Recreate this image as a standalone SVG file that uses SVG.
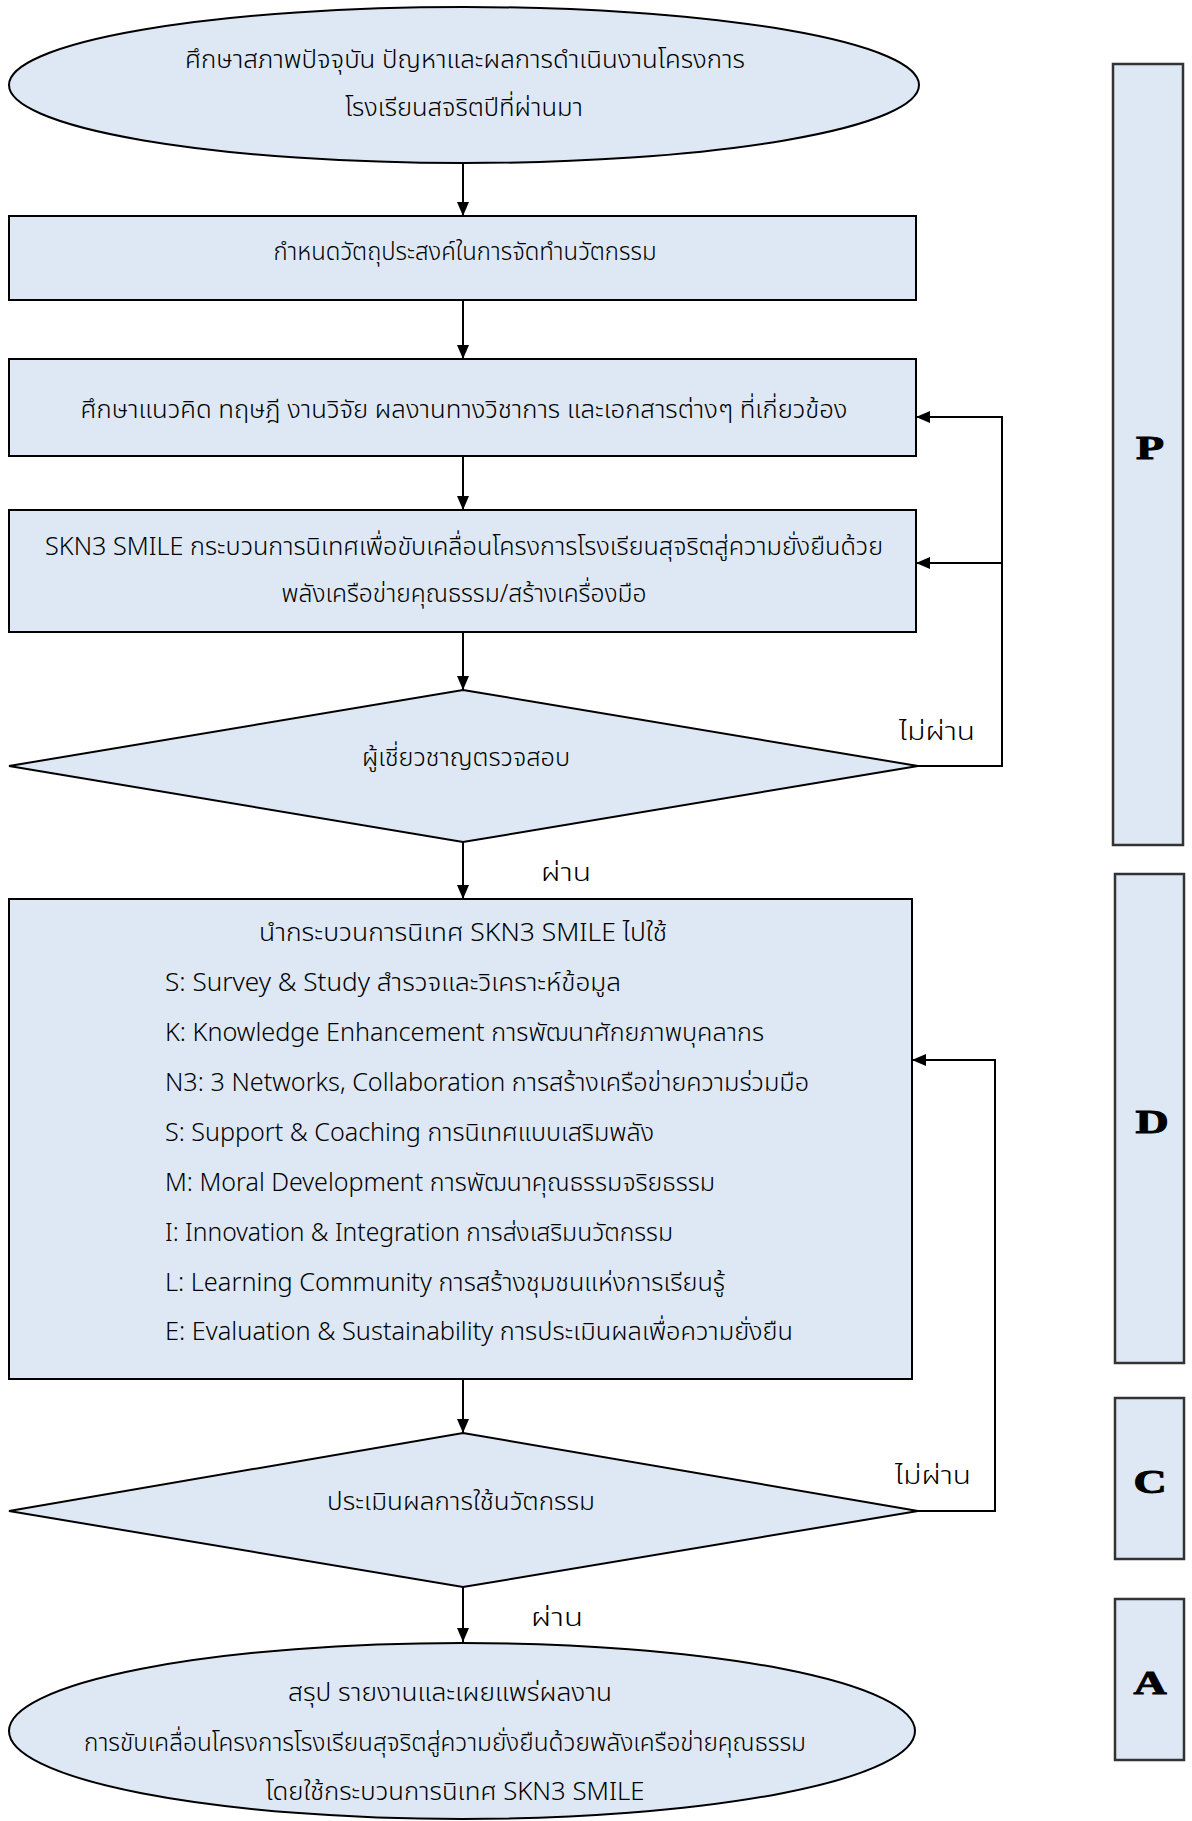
<svg xmlns="http://www.w3.org/2000/svg" width="1192" height="1821" viewBox="0 0 1192 1821">
<defs>
<marker id="ah2" viewBox="0 0 14 12" refX="14" refY="6" markerWidth="14" markerHeight="12" markerUnits="userSpaceOnUse" orient="auto">
<path d="M0,0 L14,6 L0,12 Z" fill="#000"/>
</marker>
</defs>
<style>
.n{fill:#dde8f4;stroke:#000;stroke-width:2}
.s{fill:#dde8f4;stroke:#333;stroke-width:2.5}
.t{font-family:"Noto Sans Thai","Noto Sans","DejaVu Sans",sans-serif;font-size:25px;font-weight:300;fill:#000}
.c{text-anchor:middle}
.b{font-family:"Liberation Serif","DejaVu Serif",serif;font-weight:bold;font-size:34px;fill:#000;stroke:#000;stroke-width:1;text-anchor:middle}
.l{fill:none;stroke:#000;stroke-width:2}
.a{marker-end:url(#ah2)}
</style>
<rect width="1192" height="1821" fill="#fff"/>
<g id="connectors">
<line class="l a" x1="463" y1="163" x2="463" y2="216"/>
<line class="l a" x1="463" y1="300" x2="463" y2="359"/>
<line class="l a" x1="463" y1="456" x2="463" y2="510"/>
<line class="l a" x1="463" y1="632" x2="463" y2="690"/>
<line class="l a" x1="463" y1="842" x2="463" y2="899"/>
<line class="l a" x1="463" y1="1379" x2="463" y2="1433"/>
<line class="l a" x1="463" y1="1587" x2="463" y2="1642"/>
<polyline class="l a" points="918,766 1002,766 1002,417 916,417"/>
<line class="l a" x1="1002" y1="563" x2="916" y2="563"/>
<polyline class="l a" points="918,1511 995,1511 995,1060 912,1060"/>
<text class="t c" x="937" y="740" textLength="76" lengthAdjust="spacingAndGlyphs">ไม่ผ่าน</text>
<text class="t c" x="566" y="881" textLength="50" lengthAdjust="spacingAndGlyphs">ผ่าน</text>
<text class="t c" x="933" y="1484" textLength="76" lengthAdjust="spacingAndGlyphs">ไม่ผ่าน</text>
<text class="t c" x="557" y="1626" textLength="52" lengthAdjust="spacingAndGlyphs">ผ่าน</text>
</g>
<g id="start">
<ellipse class="n" cx="464" cy="85" rx="455" ry="78"/>
<text class="t c" x="465" y="68" textLength="560" lengthAdjust="spacingAndGlyphs">ศึกษาสภาพปัจจุบัน ปัญหาและผลการดำเนินงานโครงการ</text>
<text class="t c" x="464" y="116" textLength="238" lengthAdjust="spacingAndGlyphs">โรงเรียนสจริตปีที่ผ่านมา</text>
</g>
<g id="objective">
<rect class="n" x="9" y="216" width="907" height="84"/>
<text class="t c" x="465" y="260" textLength="383" lengthAdjust="spacingAndGlyphs">กำหนดวัตถุประสงค์ในการจัดทำนวัตกรรม</text>
</g>
<g id="study">
<rect class="n" x="9" y="359" width="907" height="97"/>
<text class="t c" x="464" y="418" textLength="767" lengthAdjust="spacingAndGlyphs">ศึกษาแนวคิด ทฤษฎี งานวิจัย ผลงานทางวิชาการ และเอกสารต่างๆ ที่เกี่ยวข้อง</text>
</g>
<g id="design">
<rect class="n" x="9" y="510" width="907" height="122"/>
<text class="t c" x="464" y="555" textLength="838" lengthAdjust="spacingAndGlyphs">SKN3 SMILE กระบวนการนิเทศเพื่อขับเคลื่อนโครงการโรงเรียนสุจริตสู่ความยั่งยืนด้วย</text>
<text class="t c" x="464" y="602" textLength="365" lengthAdjust="spacingAndGlyphs">พลังเครือข่ายคุณธรรม/สร้างเครื่องมือ</text>
</g>
<g id="expert">
<polygon class="n" points="463,690 918,766 463,842 9,766"/>
<text class="t c" x="466" y="766" textLength="208" lengthAdjust="spacingAndGlyphs">ผู้เชี่ยวชาญตรวจสอบ</text>
</g>
<g id="implement">
<rect class="n" x="9" y="899" width="903" height="480"/>
<text class="t c" x="463" y="941" textLength="408" lengthAdjust="spacingAndGlyphs">นำกระบวนการนิเทศ SKN3 SMILE  ไปใช้</text>
<text class="t" x="165" y="991" textLength="456" lengthAdjust="spacingAndGlyphs">S: Survey &amp; Study สำรวจและวิเคราะห์ข้อมูล</text>
<text class="t" x="165" y="1041" textLength="599" lengthAdjust="spacingAndGlyphs">K: Knowledge Enhancement การพัฒนาศักยภาพบุคลากร</text>
<text class="t" x="165" y="1091" textLength="644" lengthAdjust="spacingAndGlyphs">N3: 3 Networks, Collaboration การสร้างเครือข่ายความร่วมมือ</text>
<text class="t" x="165" y="1141" textLength="489" lengthAdjust="spacingAndGlyphs">S: Support &amp; Coaching การนิเทศแบบเสริมพลัง</text>
<text class="t" x="165" y="1191" textLength="550" lengthAdjust="spacingAndGlyphs">M: Moral Development การพัฒนาคุณธรรมจริยธรรม</text>
<text class="t" x="165" y="1241" textLength="508" lengthAdjust="spacingAndGlyphs">I: Innovation &amp; Integration การส่งเสริมนวัตกรรม</text>
<text class="t" x="165" y="1291" textLength="560" lengthAdjust="spacingAndGlyphs">L: Learning Community การสร้างชุมชนแห่งการเรียนรู้</text>
<text class="t" x="165" y="1340" textLength="628" lengthAdjust="spacingAndGlyphs">E: Evaluation &amp; Sustainability การประเมินผลเพื่อความยั่งยืน</text>
</g>
<g id="evaluate">
<polygon class="n" points="463,1433 918,1511 463,1587 9,1511"/>
<text class="t c" x="461" y="1510" textLength="268" lengthAdjust="spacingAndGlyphs">ประเมินผลการใช้นวัตกรรม</text>
</g>
<g id="report">
<ellipse class="n" cx="462" cy="1731" rx="453" ry="88"/>
<text class="t c" x="450" y="1701" textLength="324" lengthAdjust="spacingAndGlyphs">สรุป รายงานและเผยแพร่ผลงาน</text>
<text class="t c" x="445" y="1751" textLength="722" lengthAdjust="spacingAndGlyphs">การขับเคลื่อนโครงการโรงเรียนสุจริตสู่ความยั่งยืนด้วยพลังเครือข่ายคุณธรรม</text>
<text class="t c" x="455" y="1800" textLength="379" lengthAdjust="spacingAndGlyphs">โดยใช้กระบวนการนิเทศ SKN3 SMILE</text>
</g>
<g id="phase-P">
<rect class="s" x="1113" y="64" width="70" height="781"/>
<text class="b" x="1150" y="459" transform="translate(1150,0) scale(1.35,1) translate(-1150,0)">P</text>
</g>
<g id="phase-D">
<rect class="s" x="1115" y="874" width="69" height="489"/>
<text class="b" x="1152" y="1133" transform="translate(1152,0) scale(1.35,1) translate(-1152,0)">D</text>
</g>
<g id="phase-C">
<rect class="s" x="1115" y="1398" width="69" height="161"/>
<text class="b" x="1150" y="1493" transform="translate(1150,0) scale(1.35,1) translate(-1150,0)">C</text>
</g>
<g id="phase-A">
<rect class="s" x="1115" y="1599" width="69" height="161"/>
<text class="b" x="1150" y="1694" transform="translate(1150,0) scale(1.35,1) translate(-1150,0)">A</text>
</g>
</svg>
